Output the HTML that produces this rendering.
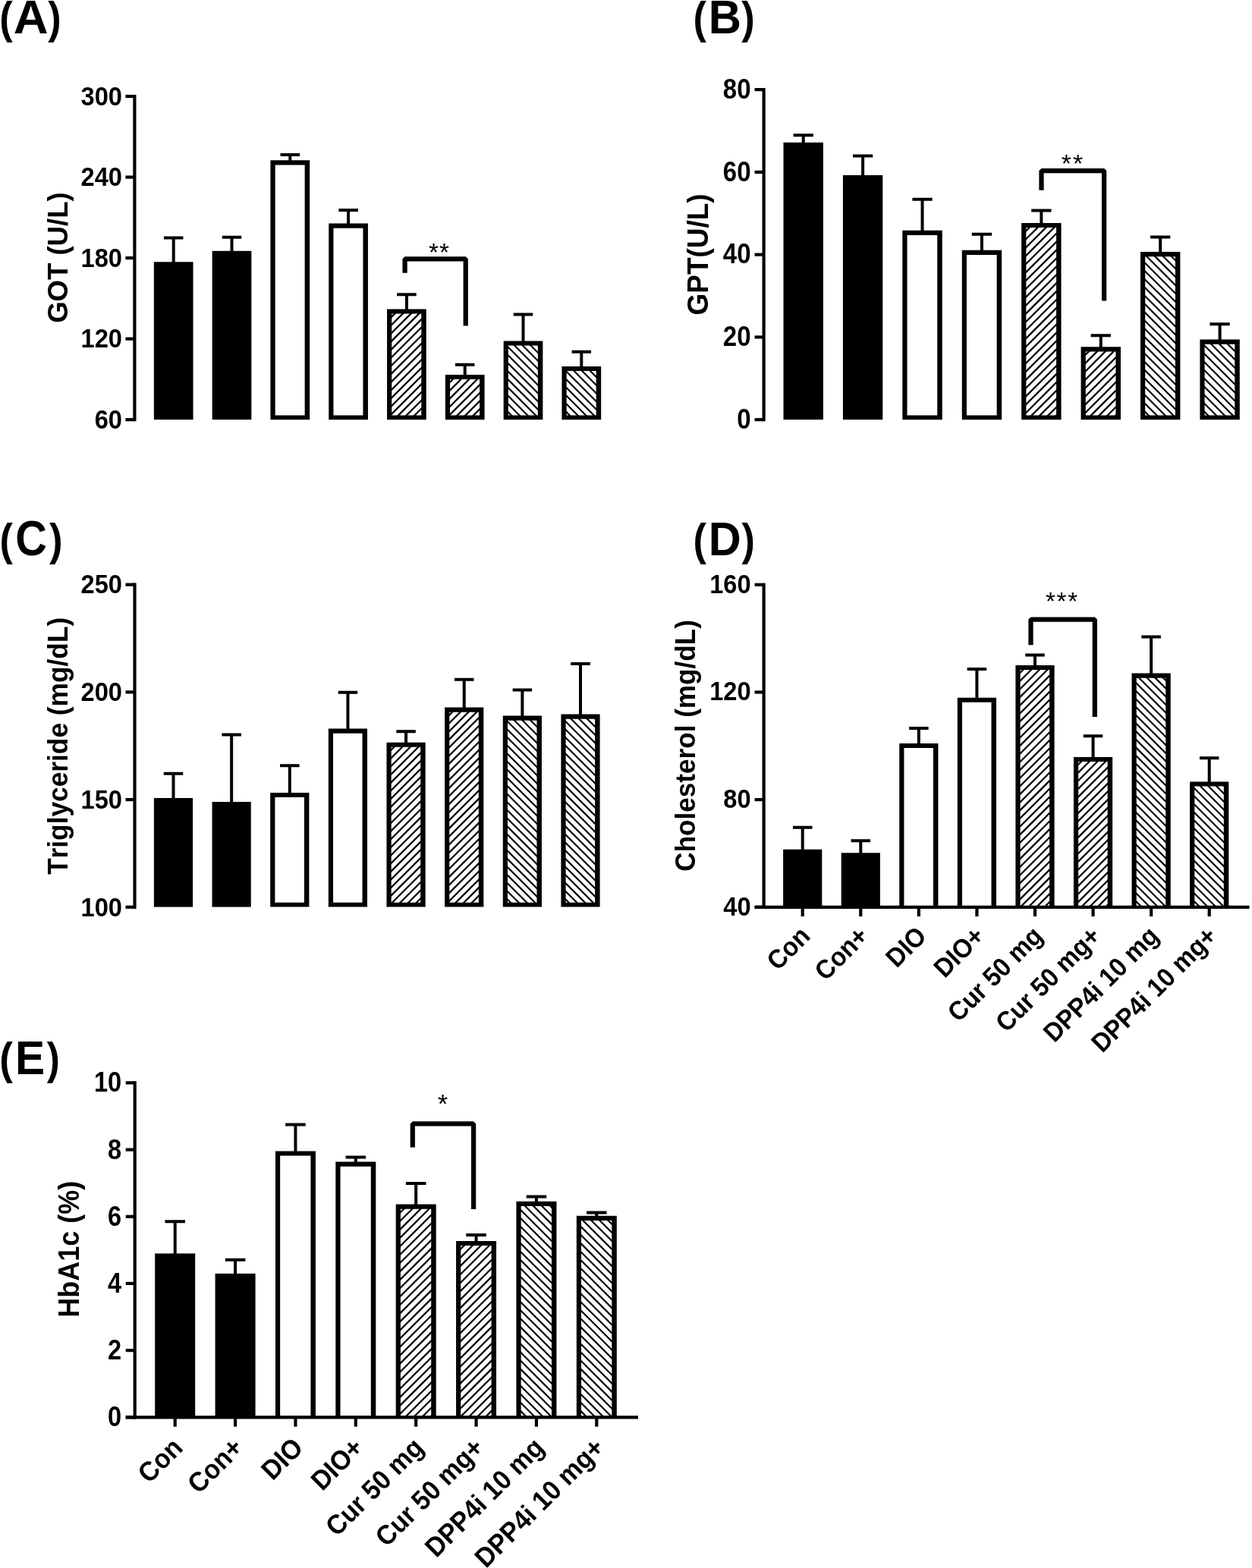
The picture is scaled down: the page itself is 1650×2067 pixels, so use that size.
<!DOCTYPE html>
<html lang="en"><head><meta charset="utf-8"><title>Figure</title>
<style>
html,body{margin:0;padding:0;background:#fff;}
body{width:1650px;height:2067px;overflow:hidden;}
svg{display:block;}
text{font-family:"Liberation Sans",Arial,Helvetica,sans-serif;fill:#000;font-kerning:none;}
.t{font-size:32.6px;font-weight:bold;}
.L{font-size:59.2px;font-weight:bold;}
.s{font-size:33.33px;}
.a{stroke:#000;stroke-width:4.17;fill:none;}
.e{stroke:#000;stroke-width:4.0;fill:none;}
.b{stroke:#000;fill:none;}
.hf{stroke:#000;stroke-width:2.25;fill:none;}
.hb{stroke:#000;stroke-width:2.15;fill:none;}
.k{stroke:#000;stroke-width:6.25;fill:none;stroke-linejoin:bevel;}
</style></head><body>
<svg xmlns="http://www.w3.org/2000/svg" width="1650" height="2067" viewBox="0 0 1650 2067">
<rect width="1650" height="2067" fill="#fff"/>
<g id="panel-A">
<path d="M228.7 348.3V313.6M215.95 313.6H241.45" class="e"/>
<rect x="202.85" y="345.3" width="51.7" height="207.9"/>
<path d="M305.5 333.8V312.7M292.75 312.7H318.25" class="e"/>
<rect x="279.65" y="330.8" width="51.7" height="222.4"/>
<path d="M382.3 214.3V204M369.55 204H395.05" class="e"/>
<path fill-rule="evenodd" d="M356.45 211.3H408.15V553.2H356.45ZM362.65 217.4H401.65V547.4H362.65Z"/>
<path d="M459.1 297.6V277M446.35 277H471.85" class="e"/>
<path fill-rule="evenodd" d="M433.25 294.6H484.95V553.2H433.25ZM439.45 300.7H478.45V547.4H439.45Z"/>
<path d="M535.9 410.5V388.3M523.15 388.3H548.65" class="e"/>
<path d="M514.75 418.84L521.48 412.1M514.75 429.53L532.17 412.1M514.75 440.22L542.87 412.1M514.75 450.91L553.56 412.1M514.75 461.6L556.75 419.6M514.75 472.29L556.75 430.29M514.75 482.98L556.75 440.98M514.75 493.67L556.75 451.67M514.75 504.36L556.75 462.36M514.75 515.05L556.75 473.05M514.75 525.74L556.75 483.74M514.75 536.43L556.75 494.43M514.75 547.12L556.75 505.12M523.66 548.9L556.75 515.81M534.35 548.9L556.75 526.5M545.04 548.9L556.75 537.19M555.73 548.9L556.75 547.88" class="hf"/>
<path fill-rule="evenodd" d="M510.05 407.5H561.75V553.2H510.05ZM516.25 413.6H555.25V547.4H516.25Z"/>
<path d="M612.7 496.9V480.8M599.95 480.8H625.45" class="e"/>
<path d="M591.55 505.24L598.29 498.5M591.55 515.93L608.98 498.5M591.55 526.62L619.67 498.5M591.55 537.31L630.36 498.5M591.55 548L633.55 506M601.34 548.9L633.55 516.69M612.03 548.9L633.55 527.38M622.72 548.9L633.55 538.07M633.41 548.9L633.55 548.76" class="hf"/>
<path fill-rule="evenodd" d="M586.85 493.9H638.55V553.2H586.85ZM593.05 500H632.05V547.4H593.05Z"/>
<path d="M689.5 452.4V414.5M676.75 414.5H702.25" class="e"/>
<path d="M668.35 541.87L675.38 548.9M668.35 531.18L686.07 548.9M668.35 520.49L696.76 548.9M668.35 509.8L707.45 548.9M668.35 499.11L710.35 541.11M668.35 488.42L710.35 530.42M668.35 477.73L710.35 519.73M668.35 467.04L710.35 509.04M668.35 456.35L710.35 498.35M676.69 454L710.35 487.66M687.38 454L710.35 476.97M698.07 454L710.35 466.28M708.76 454L710.35 455.59" class="hb"/>
<path fill-rule="evenodd" d="M663.65 449.4H715.35V553.2H663.65ZM669.85 455.5H708.85V547.4H669.85Z"/>
<path d="M766.3 486V463.8M753.55 463.8H779.05" class="e"/>
<path d="M745.15 541.87L752.18 548.9M745.15 531.18L762.88 548.9M745.15 520.49L773.56 548.9M745.15 509.8L784.25 548.9M745.15 499.11L787.15 541.11M745.15 488.42L787.15 530.42M755.02 487.6L787.15 519.73M765.71 487.6L787.15 509.04M776.4 487.6L787.15 498.35M787.09 487.6L787.15 487.66" class="hb"/>
<path fill-rule="evenodd" d="M740.45 483H792.15V553.2H740.45ZM746.65 489.1H785.65V547.4H746.65Z"/>
<path d="M177.4 124.92V555.29" class="a"/>
<path d="M165.4 127H177.4" class="a"/>
<text transform="translate(160.9 138.7) scale(1 1.070)" class="t" text-anchor="end">300</text>
<path d="M165.4 233.55H177.4" class="a"/>
<text transform="translate(160.9 245.25) scale(1 1.070)" class="t" text-anchor="end">240</text>
<path d="M165.4 340.1H177.4" class="a"/>
<text transform="translate(160.9 351.8) scale(1 1.070)" class="t" text-anchor="end">180</text>
<path d="M165.4 446.65H177.4" class="a"/>
<text transform="translate(160.9 458.35) scale(1 1.070)" class="t" text-anchor="end">120</text>
<path d="M165.4 553.2H177.4" class="a"/>
<text transform="translate(160.9 564.9) scale(1 1.070)" class="t" text-anchor="end">60</text>
<text transform="translate(89.1 339.6) rotate(-90) scale(1 1.018)" class="t" text-anchor="middle" style="font-size:36.54px">GOT (U/L)</text>
<text transform="translate(-0.81 43.87) scale(0.8859 1.0040)" class="L">(</text>
<text transform="translate(17.82 43.6) scale(1.0726 1.0778)" class="L">A</text>
<text transform="translate(63.35 43.87) scale(0.8859 1.0040)" class="L">)</text>
<path d="M533.6 359.8V341.3H613.7V429.4" class="k"/>
<text transform="translate(579.1 344.2)" class="s" text-anchor="middle" style="font-size:33.33px;letter-spacing:1.2px">**</text>
</g>
<g id="panel-B">
<path d="M1058.7 190.8V178.2M1045.55 178.2H1071.85" class="e"/>
<rect x="1032.5" y="187.8" width="52.4" height="365.4"/>
<path d="M1137.11 233.9V205.6M1123.96 205.6H1150.26" class="e"/>
<rect x="1110.91" y="230.9" width="52.4" height="322.3"/>
<path d="M1215.53 306.8V262.7M1202.38 262.7H1228.68" class="e"/>
<path fill-rule="evenodd" d="M1189.33 303.8H1241.73V553.2H1189.33ZM1195.53 309.9H1235.23V547.4H1195.53Z"/>
<path d="M1293.94 332.8V308.8M1280.79 308.8H1307.09" class="e"/>
<path fill-rule="evenodd" d="M1267.74 329.8H1320.14V553.2H1267.74ZM1273.94 335.9H1313.64V547.4H1273.94Z"/>
<path d="M1372.36 297V277.5M1359.21 277.5H1385.51" class="e"/>
<path d="M1350.86 305.65L1357.91 298.6M1350.86 316.55L1368.81 298.6M1350.86 327.45L1379.71 298.6M1350.86 338.35L1390.61 298.6M1350.86 349.25L1393.56 306.55M1350.86 360.15L1393.56 317.45M1350.86 371.05L1393.56 328.35M1350.86 381.95L1393.56 339.25M1350.86 392.85L1393.56 350.15M1350.86 403.75L1393.56 361.05M1350.86 414.65L1393.56 371.95M1350.86 425.55L1393.56 382.85M1350.86 436.45L1393.56 393.75M1350.86 447.35L1393.56 404.65M1350.86 458.25L1393.56 415.55M1350.86 469.15L1393.56 426.45M1350.86 480.05L1393.56 437.35M1350.86 490.95L1393.56 448.25M1350.86 501.85L1393.56 459.15M1350.86 512.75L1393.56 470.05M1350.86 523.65L1393.56 480.95M1350.86 534.55L1393.56 491.85M1350.86 545.45L1393.56 502.75M1358.31 548.9L1393.56 513.65M1369.21 548.9L1393.56 524.55M1380.11 548.9L1393.56 535.45M1391.01 548.9L1393.56 546.35" class="hf"/>
<path fill-rule="evenodd" d="M1346.16 294H1398.56V553.2H1346.16ZM1352.36 300.1H1392.06V547.4H1352.36Z"/>
<path d="M1450.77 460.3V442.3M1437.62 442.3H1463.92" class="e"/>
<path d="M1429.27 468.95L1436.32 461.9M1429.27 479.85L1447.22 461.9M1429.27 490.75L1458.12 461.9M1429.27 501.65L1469.02 461.9M1429.27 512.55L1471.97 469.85M1429.27 523.45L1471.97 480.75M1429.27 534.35L1471.97 491.65M1429.27 545.25L1471.97 502.55M1436.52 548.9L1471.97 513.45M1447.42 548.9L1471.97 524.35M1458.32 548.9L1471.97 535.25M1469.22 548.9L1471.97 546.15" class="hf"/>
<path fill-rule="evenodd" d="M1424.57 457.3H1476.97V553.2H1424.57ZM1430.77 463.4H1470.47V547.4H1430.77Z"/>
<path d="M1529.19 335.1V312.4M1516.04 312.4H1542.34" class="e"/>
<path d="M1507.69 541.55L1515.04 548.9M1507.69 530.65L1525.94 548.9M1507.69 519.75L1536.84 548.9M1507.69 508.85L1547.74 548.9M1507.69 497.95L1550.39 540.65M1507.69 487.05L1550.39 529.75M1507.69 476.15L1550.39 518.85M1507.69 465.25L1550.39 507.95M1507.69 454.35L1550.39 497.05M1507.69 443.45L1550.39 486.15M1507.69 432.55L1550.39 475.25M1507.69 421.65L1550.39 464.35M1507.69 410.75L1550.39 453.45M1507.69 399.85L1550.39 442.55M1507.69 388.95L1550.39 431.65M1507.69 378.05L1550.39 420.75M1507.69 367.15L1550.39 409.85M1507.69 356.25L1550.39 398.95M1507.69 345.35L1550.39 388.05M1509.94 336.7L1550.39 377.15M1520.84 336.7L1550.39 366.25M1531.74 336.7L1550.39 355.35M1542.64 336.7L1550.39 344.45" class="hb"/>
<path fill-rule="evenodd" d="M1502.99 332.1H1555.39V553.2H1502.99ZM1509.19 338.2H1548.89V547.4H1509.19Z"/>
<path d="M1607.6 450.6V427.3M1594.45 427.3H1620.75" class="e"/>
<path d="M1586.1 541.55L1593.45 548.9M1586.1 530.65L1604.35 548.9M1586.1 519.75L1615.25 548.9M1586.1 508.85L1626.15 548.9M1586.1 497.95L1628.8 540.65M1586.1 487.05L1628.8 529.75M1586.1 476.15L1628.8 518.85M1586.1 465.25L1628.8 507.95M1586.1 454.35L1628.8 497.05M1594.85 452.2L1628.8 486.15M1605.75 452.2L1628.8 475.25M1616.65 452.2L1628.8 464.35M1627.55 452.2L1628.8 453.45" class="hb"/>
<path fill-rule="evenodd" d="M1581.4 447.6H1633.8V553.2H1581.4ZM1587.6 453.7H1627.3V547.4H1587.6Z"/>
<path d="M1006.6 116.02V555.29" class="a"/>
<path d="M994.6 118.1H1006.6" class="a"/>
<text transform="translate(989.5 129.9) scale(1 1.100)" class="t" text-anchor="end" style="font-size:33px">80</text>
<path d="M994.6 226.88H1006.6" class="a"/>
<text transform="translate(989.5 238.68) scale(1 1.100)" class="t" text-anchor="end" style="font-size:33px">60</text>
<path d="M994.6 335.65H1006.6" class="a"/>
<text transform="translate(989.5 347.45) scale(1 1.100)" class="t" text-anchor="end" style="font-size:33px">40</text>
<path d="M994.6 444.43H1006.6" class="a"/>
<text transform="translate(989.5 456.23) scale(1 1.100)" class="t" text-anchor="end" style="font-size:33px">20</text>
<path d="M994.6 553.2H1006.6" class="a"/>
<text transform="translate(989.5 565) scale(1 1.100)" class="t" text-anchor="end" style="font-size:33px">0</text>
<text transform="translate(933.2 335.4) rotate(-90) scale(1 1.027)" class="t" text-anchor="middle" style="font-size:36.93px">GPT(U/L)</text>
<text transform="translate(913.55 44.12) scale(0.8829 1.0040)" class="L">(</text>
<text transform="translate(933.7 43.85) scale(1.0109 1.0778)" class="L">B</text>
<text transform="translate(977.35 44.12) scale(0.8859 1.0040)" class="L">)</text>
<path d="M1372.5 250.8V225.1H1455.1V396.6" class="k"/>
<text transform="translate(1414.1 227.3)" class="s" text-anchor="middle" style="font-size:34px;letter-spacing:2.1px">**</text>
</g>
<g id="panel-C">
<path d="M228.5 1055V1019.7M215.75 1019.7H241.25" class="e"/>
<rect x="202.9" y="1052" width="51.2" height="143.6"/>
<path d="M305.14 1060.1V968.6M292.39 968.6H317.89" class="e"/>
<rect x="279.54" y="1057.1" width="51.2" height="138.5"/>
<path d="M381.79 1047.9V1009.2M369.04 1009.2H394.54" class="e"/>
<path fill-rule="evenodd" d="M356.19 1044.9H407.39V1195.6H356.19ZM362.39 1051H400.89V1189.8H362.39Z"/>
<path d="M458.43 963.6V912.8M445.68 912.8H471.18" class="e"/>
<path fill-rule="evenodd" d="M432.83 960.6H484.03V1195.6H432.83ZM439.03 966.7H477.53V1189.8H439.03Z"/>
<path d="M535.07 981.7V964.2M522.32 964.2H547.82" class="e"/>
<path d="M514.17 989.99L520.86 983.3M514.17 1000.65L531.52 983.3M514.17 1011.31L542.18 983.3M514.17 1021.97L552.84 983.3M514.17 1032.63L555.67 991.13M514.17 1043.29L555.67 1001.79M514.17 1053.95L555.67 1012.45M514.17 1064.61L555.67 1023.11M514.17 1075.27L555.67 1033.77M514.17 1085.93L555.67 1044.43M514.17 1096.59L555.67 1055.09M514.17 1107.25L555.67 1065.75M514.17 1117.91L555.67 1076.41M514.17 1128.57L555.67 1087.07M514.17 1139.23L555.67 1097.73M514.17 1149.89L555.67 1108.39M514.17 1160.55L555.67 1119.05M514.17 1171.21L555.67 1129.71M514.17 1181.87L555.67 1140.37M515.4 1191.3L555.67 1151.03M526.06 1191.3L555.67 1161.69M536.72 1191.3L555.67 1172.35M547.38 1191.3L555.67 1183.01" class="hf"/>
<path fill-rule="evenodd" d="M509.47 978.7H560.67V1195.6H509.47ZM515.67 984.8H554.17V1189.8H515.67Z"/>
<path d="M611.71 935.6V895.7M598.96 895.7H624.46" class="e"/>
<path d="M590.81 943.89L597.5 937.2M590.81 954.55L608.16 937.2M590.81 965.21L618.82 937.2M590.81 975.87L629.48 937.2M590.81 986.53L632.31 945.03M590.81 997.19L632.31 955.69M590.81 1007.85L632.31 966.35M590.81 1018.51L632.31 977.01M590.81 1029.17L632.31 987.67M590.81 1039.83L632.31 998.33M590.81 1050.49L632.31 1008.99M590.81 1061.15L632.31 1019.65M590.81 1071.81L632.31 1030.31M590.81 1082.47L632.31 1040.97M590.81 1093.13L632.31 1051.63M590.81 1103.79L632.31 1062.29M590.81 1114.45L632.31 1072.95M590.81 1125.11L632.31 1083.61M590.81 1135.77L632.31 1094.27M590.81 1146.43L632.31 1104.93M590.81 1157.09L632.31 1115.59M590.81 1167.75L632.31 1126.25M590.81 1178.41L632.31 1136.91M590.81 1189.07L632.31 1147.57M599.24 1191.3L632.31 1158.23M609.9 1191.3L632.31 1168.89M620.56 1191.3L632.31 1179.55M631.22 1191.3L632.31 1190.21" class="hf"/>
<path fill-rule="evenodd" d="M586.11 932.6H637.31V1195.6H586.11ZM592.31 938.7H630.81V1189.8H592.31Z"/>
<path d="M688.36 946.6V909.5M675.61 909.5H701.11" class="e"/>
<path d="M667.46 1184.31L674.45 1191.3M667.46 1173.65L685.11 1191.3M667.46 1162.99L695.77 1191.3M667.46 1152.33L706.43 1191.3M667.46 1141.67L708.96 1183.17M667.46 1131.01L708.96 1172.51M667.46 1120.35L708.96 1161.85M667.46 1109.69L708.96 1151.19M667.46 1099.03L708.96 1140.53M667.46 1088.37L708.96 1129.87M667.46 1077.71L708.96 1119.21M667.46 1067.05L708.96 1108.55M667.46 1056.39L708.96 1097.89M667.46 1045.73L708.96 1087.23M667.46 1035.07L708.96 1076.57M667.46 1024.41L708.96 1065.91M667.46 1013.75L708.96 1055.25M667.46 1003.09L708.96 1044.59M667.46 992.43L708.96 1033.93M667.46 981.77L708.96 1023.27M667.46 971.11L708.96 1012.61M667.46 960.45L708.96 1001.95M667.46 949.79L708.96 991.29M676.53 948.2L708.96 980.63M687.19 948.2L708.96 969.97M697.85 948.2L708.96 959.31M708.51 948.2L708.96 948.65" class="hb"/>
<path fill-rule="evenodd" d="M662.76 943.6H713.96V1195.6H662.76ZM668.96 949.7H707.46V1189.8H668.96Z"/>
<path d="M765 944.6V875M752.25 875H777.75" class="e"/>
<path d="M744.1 1184.31L751.09 1191.3M744.1 1173.65L761.75 1191.3M744.1 1162.99L772.41 1191.3M744.1 1152.33L783.07 1191.3M744.1 1141.67L785.6 1183.17M744.1 1131.01L785.6 1172.51M744.1 1120.35L785.6 1161.85M744.1 1109.69L785.6 1151.19M744.1 1099.03L785.6 1140.53M744.1 1088.37L785.6 1129.87M744.1 1077.71L785.6 1119.21M744.1 1067.05L785.6 1108.55M744.1 1056.39L785.6 1097.89M744.1 1045.73L785.6 1087.23M744.1 1035.07L785.6 1076.57M744.1 1024.41L785.6 1065.91M744.1 1013.75L785.6 1055.25M744.1 1003.09L785.6 1044.59M744.1 992.43L785.6 1033.93M744.1 981.77L785.6 1023.27M744.1 971.11L785.6 1012.61M744.1 960.45L785.6 1001.95M744.1 949.79L785.6 991.29M751.17 946.2L785.6 980.63M761.83 946.2L785.6 969.97M772.49 946.2L785.6 959.31M783.15 946.2L785.6 948.65" class="hb"/>
<path fill-rule="evenodd" d="M739.4 941.6H790.6V1195.6H739.4ZM745.6 947.7H784.1V1189.8H745.6Z"/>
<path d="M177.5 768.62V1197.88" class="a"/>
<path d="M165.5 770.7H177.5" class="a"/>
<text transform="translate(161 782.4) scale(1 1.070)" class="t" text-anchor="end">250</text>
<path d="M165.5 912.4H177.5" class="a"/>
<text transform="translate(161 924.1) scale(1 1.070)" class="t" text-anchor="end">200</text>
<path d="M165.5 1054.1H177.5" class="a"/>
<text transform="translate(161 1065.8) scale(1 1.070)" class="t" text-anchor="end">150</text>
<path d="M165.5 1195.8H177.5" class="a"/>
<text transform="translate(161 1207.5) scale(1 1.070)" class="t" text-anchor="end">100</text>
<text transform="translate(89.1 983.4) rotate(-90) scale(1 1.046)" class="t" text-anchor="middle" style="font-size:35.29px">Triglyceride (mg/dL)</text>
<text transform="translate(-0.39 732.12) scale(0.8799 1.0040)" class="L">(</text>
<text transform="translate(20.14 731.92) scale(0.9740 1.0832)" class="L">C</text>
<text transform="translate(65.05 732.12) scale(0.8919 1.0040)" class="L">)</text>
</g>
<g id="panel-D">
<path d="M1057.7 1122.7V1090.7M1044.95 1090.7H1070.45" class="e"/>
<rect x="1032.1" y="1119.7" width="51.2" height="77.1"/>
<path d="M1134.27 1127.3V1108.2M1121.52 1108.2H1147.02" class="e"/>
<rect x="1108.67" y="1124.3" width="51.2" height="72.5"/>
<path d="M1210.84 983V959.9M1198.09 959.9H1223.59" class="e"/>
<path fill-rule="evenodd" d="M1185.24 980H1236.44V1196.8H1185.24ZM1191.44 986.1H1229.94V1194.2H1191.44Z"/>
<path d="M1287.41 922.7V882M1274.66 882H1300.16" class="e"/>
<path fill-rule="evenodd" d="M1261.81 919.7H1313.01V1196.8H1261.81ZM1268.01 925.8H1306.51V1194.2H1268.01Z"/>
<path d="M1363.99 879.9V863.4M1351.24 863.4H1376.74" class="e"/>
<path d="M1343.09 888.19L1349.78 881.5M1343.09 898.85L1360.44 881.5M1343.09 909.51L1371.1 881.5M1343.09 920.17L1381.76 881.5M1343.09 930.83L1384.59 889.33M1343.09 941.49L1384.59 899.99M1343.09 952.15L1384.59 910.65M1343.09 962.81L1384.59 921.31M1343.09 973.47L1384.59 931.97M1343.09 984.13L1384.59 942.63M1343.09 994.79L1384.59 953.29M1343.09 1005.45L1384.59 963.95M1343.09 1016.11L1384.59 974.61M1343.09 1026.77L1384.59 985.27M1343.09 1037.43L1384.59 995.93M1343.09 1048.09L1384.59 1006.59M1343.09 1058.75L1384.59 1017.25M1343.09 1069.41L1384.59 1027.91M1343.09 1080.07L1384.59 1038.57M1343.09 1090.73L1384.59 1049.23M1343.09 1101.39L1384.59 1059.89M1343.09 1112.05L1384.59 1070.55M1343.09 1122.71L1384.59 1081.21M1343.09 1133.37L1384.59 1091.87M1343.09 1144.03L1384.59 1102.53M1343.09 1154.69L1384.59 1113.19M1343.09 1165.35L1384.59 1123.85M1343.09 1176.01L1384.59 1134.51M1343.09 1186.67L1384.59 1145.17M1344.72 1195.7L1384.59 1155.83M1355.38 1195.7L1384.59 1166.49M1366.04 1195.7L1384.59 1177.15M1376.7 1195.7L1384.59 1187.81" class="hf"/>
<path fill-rule="evenodd" d="M1338.39 876.9H1389.59V1196.8H1338.39ZM1344.59 883H1383.09V1194.2H1344.59Z"/>
<path d="M1440.56 1000.9V970.3M1427.81 970.3H1453.31" class="e"/>
<path d="M1419.66 1009.19L1426.35 1002.5M1419.66 1019.85L1437.01 1002.5M1419.66 1030.51L1447.67 1002.5M1419.66 1041.17L1458.33 1002.5M1419.66 1051.83L1461.16 1010.33M1419.66 1062.49L1461.16 1020.99M1419.66 1073.15L1461.16 1031.65M1419.66 1083.81L1461.16 1042.31M1419.66 1094.47L1461.16 1052.97M1419.66 1105.13L1461.16 1063.63M1419.66 1115.79L1461.16 1074.29M1419.66 1126.45L1461.16 1084.95M1419.66 1137.11L1461.16 1095.61M1419.66 1147.77L1461.16 1106.27M1419.66 1158.43L1461.16 1116.93M1419.66 1169.09L1461.16 1127.59M1419.66 1179.75L1461.16 1138.25M1419.66 1190.41L1461.16 1148.91M1425.03 1195.7L1461.16 1159.57M1435.69 1195.7L1461.16 1170.23M1446.35 1195.7L1461.16 1180.89M1457.01 1195.7L1461.16 1191.55" class="hf"/>
<path fill-rule="evenodd" d="M1414.96 997.9H1466.16V1196.8H1414.96ZM1421.16 1004H1459.66V1194.2H1421.16Z"/>
<path d="M1517.13 890.6V839.5M1504.38 839.5H1529.88" class="e"/>
<path d="M1496.23 1187.16L1504.77 1195.7M1496.23 1176.5L1515.43 1195.7M1496.23 1165.84L1526.09 1195.7M1496.23 1155.18L1536.75 1195.7M1496.23 1144.52L1537.73 1186.02M1496.23 1133.86L1537.73 1175.36M1496.23 1123.2L1537.73 1164.7M1496.23 1112.54L1537.73 1154.04M1496.23 1101.88L1537.73 1143.38M1496.23 1091.22L1537.73 1132.72M1496.23 1080.56L1537.73 1122.06M1496.23 1069.9L1537.73 1111.4M1496.23 1059.24L1537.73 1100.74M1496.23 1048.58L1537.73 1090.08M1496.23 1037.92L1537.73 1079.42M1496.23 1027.26L1537.73 1068.76M1496.23 1016.6L1537.73 1058.1M1496.23 1005.94L1537.73 1047.44M1496.23 995.28L1537.73 1036.78M1496.23 984.62L1537.73 1026.12M1496.23 973.96L1537.73 1015.46M1496.23 963.3L1537.73 1004.8M1496.23 952.64L1537.73 994.14M1496.23 941.98L1537.73 983.48M1496.23 931.32L1537.73 972.82M1496.23 920.66L1537.73 962.16M1496.23 910L1537.73 951.5M1496.23 899.34L1537.73 940.84M1499.75 892.2L1537.73 930.18M1510.41 892.2L1537.73 919.52M1521.07 892.2L1537.73 908.86M1531.73 892.2L1537.73 898.2" class="hb"/>
<path fill-rule="evenodd" d="M1491.53 887.6H1542.73V1196.8H1491.53ZM1497.73 893.7H1536.23V1194.2H1497.73Z"/>
<path d="M1593.7 1033.4V999.3M1580.95 999.3H1606.45" class="e"/>
<path d="M1572.8 1187.16L1581.34 1195.7M1572.8 1176.5L1592 1195.7M1572.8 1165.84L1602.66 1195.7M1572.8 1155.18L1613.32 1195.7M1572.8 1144.52L1614.3 1186.02M1572.8 1133.86L1614.3 1175.36M1572.8 1123.2L1614.3 1164.7M1572.8 1112.54L1614.3 1154.04M1572.8 1101.88L1614.3 1143.38M1572.8 1091.22L1614.3 1132.72M1572.8 1080.56L1614.3 1122.06M1572.8 1069.9L1614.3 1111.4M1572.8 1059.24L1614.3 1100.74M1572.8 1048.58L1614.3 1090.08M1572.8 1037.92L1614.3 1079.42M1580.54 1035L1614.3 1068.76M1591.2 1035L1614.3 1058.1M1601.86 1035L1614.3 1047.44M1612.52 1035L1614.3 1036.78" class="hb"/>
<path fill-rule="evenodd" d="M1568.1 1030.4H1619.3V1196.8H1568.1ZM1574.3 1036.5H1612.8V1194.2H1574.3Z"/>
<path d="M1006.6 768.71V1197.88" class="a"/>
<path d="M994.6 770.8H1006.6" class="a"/>
<text transform="translate(989.6 781.8) scale(1 1.070)" class="t" text-anchor="end">160</text>
<path d="M994.6 912.47H1006.6" class="a"/>
<text transform="translate(989.6 923.47) scale(1 1.070)" class="t" text-anchor="end">120</text>
<path d="M994.6 1054.13H1006.6" class="a"/>
<text transform="translate(989.6 1065.13) scale(1 1.070)" class="t" text-anchor="end">80</text>
<path d="M994.6 1195.8H1006.6" class="a"/>
<text transform="translate(989.6 1206.8) scale(1 1.070)" class="t" text-anchor="end">40</text>
<text transform="translate(916.1 982.95) rotate(-90) scale(1 1.039)" class="t" text-anchor="middle" style="font-size:35.11px">Cholesterol (mg/dL)</text>
<text transform="translate(913.55 732.27) scale(0.8829 1.0040)" class="L">(</text>
<text transform="translate(933.72 732) scale(1.0053 1.0778)" class="L">D</text>
<text transform="translate(977.4 732.27) scale(0.8829 1.0040)" class="L">)</text>
<path d="M994.6 1195.8H1646.6" class="a"/>
<path d="M1057.7 1195.8v12.3" class="a"/>
<text transform="translate(1069.7 1236) rotate(-45) scale(1 1.070)" class="t" text-anchor="end">Con</text>
<path d="M1134.27 1195.8v12.3" class="a"/>
<text transform="translate(1146.27 1236) rotate(-45) scale(1 1.070)" class="t" text-anchor="end">Con+</text>
<path d="M1210.84 1195.8v12.3" class="a"/>
<text transform="translate(1222.84 1236) rotate(-45) scale(1 1.070)" class="t" text-anchor="end">DIO</text>
<path d="M1287.41 1195.8v12.3" class="a"/>
<text transform="translate(1299.41 1236) rotate(-45) scale(1 1.070)" class="t" text-anchor="end">DIO+</text>
<path d="M1363.99 1195.8v12.3" class="a"/>
<text transform="translate(1375.99 1236) rotate(-45) scale(1 1.070)" class="t" text-anchor="end">Cur 50 mg</text>
<path d="M1440.56 1195.8v12.3" class="a"/>
<text transform="translate(1452.56 1236) rotate(-45) scale(1 1.070)" class="t" text-anchor="end">Cur 50 mg+</text>
<path d="M1517.13 1195.8v12.3" class="a"/>
<text transform="translate(1529.13 1236) rotate(-45) scale(1 1.070)" class="t" text-anchor="end">DPP4i 10 mg</text>
<path d="M1593.7 1195.8v12.3" class="a"/>
<text transform="translate(1605.7 1236) rotate(-45) scale(1 1.070)" class="t" text-anchor="end">DPP4i 10 mg+</text>
<path d="M1358.5 850.2V816.5H1442.8V945.1" class="k"/>
<text transform="translate(1399.9 803.6)" class="s" text-anchor="middle" style="font-size:33.33px;letter-spacing:1.6px">***</text>
</g>
<g id="panel-E">
<path d="M230.7 1655.4V1610.2M217.45 1610.2H243.95" class="e"/>
<rect x="204.2" y="1652.4" width="53" height="216.9"/>
<path d="M310.07 1681.9V1660.8M296.82 1660.8H323.32" class="e"/>
<rect x="283.57" y="1678.9" width="53" height="190.4"/>
<path d="M389.44 1520.4V1482.4M376.19 1482.4H402.69" class="e"/>
<path fill-rule="evenodd" d="M362.94 1517.4H415.94V1869.3H362.94ZM369.14 1523.5H409.44V1866.7H369.14Z"/>
<path d="M468.81 1534.6V1525.5M455.56 1525.5H482.06" class="e"/>
<path fill-rule="evenodd" d="M442.31 1531.6H495.31V1869.3H442.31ZM448.51 1537.7H488.81V1866.7H448.51Z"/>
<path d="M548.19 1590.6V1560.1M534.94 1560.1H561.44" class="e"/>
<path d="M526.39 1599.48L533.66 1592.2M526.39 1610.53L544.71 1592.2M526.39 1621.58L555.76 1592.2M526.39 1632.63L566.81 1592.2M526.39 1643.68L569.69 1600.38M526.39 1654.73L569.69 1611.43M526.39 1665.78L569.69 1622.48M526.39 1676.83L569.69 1633.53M526.39 1687.88L569.69 1644.58M526.39 1698.93L569.69 1655.63M526.39 1709.98L569.69 1666.68M526.39 1721.03L569.69 1677.73M526.39 1732.08L569.69 1688.78M526.39 1743.13L569.69 1699.83M526.39 1754.18L569.69 1710.88M526.39 1765.23L569.69 1721.93M526.39 1776.28L569.69 1732.98M526.39 1787.33L569.69 1744.03M526.39 1798.38L569.69 1755.08M526.39 1809.43L569.69 1766.13M526.39 1820.48L569.69 1777.18M526.39 1831.53L569.69 1788.23M526.39 1842.58L569.69 1799.28M526.39 1853.63L569.69 1810.33M526.39 1864.68L569.69 1821.38M533.91 1868.2L569.69 1832.43M544.96 1868.2L569.69 1843.48M556.01 1868.2L569.69 1854.53M567.06 1868.2L569.69 1865.58" class="hf"/>
<path fill-rule="evenodd" d="M521.69 1587.6H574.69V1869.3H521.69ZM527.89 1593.7H568.19V1866.7H527.89Z"/>
<path d="M627.56 1638.9V1628M614.31 1628H640.81" class="e"/>
<path d="M605.76 1647.78L613.03 1640.5M605.76 1658.83L624.08 1640.5M605.76 1669.88L635.13 1640.5M605.76 1680.93L646.18 1640.5M605.76 1691.98L649.06 1648.68M605.76 1703.03L649.06 1659.73M605.76 1714.08L649.06 1670.78M605.76 1725.13L649.06 1681.83M605.76 1736.18L649.06 1692.88M605.76 1747.23L649.06 1703.93M605.76 1758.28L649.06 1714.98M605.76 1769.33L649.06 1726.03M605.76 1780.38L649.06 1737.08M605.76 1791.43L649.06 1748.13M605.76 1802.48L649.06 1759.18M605.76 1813.53L649.06 1770.23M605.76 1824.58L649.06 1781.28M605.76 1835.63L649.06 1792.33M605.76 1846.68L649.06 1803.38M605.76 1857.73L649.06 1814.43M606.33 1868.2L649.06 1825.48M617.38 1868.2L649.06 1836.53M628.43 1868.2L649.06 1847.58M639.48 1868.2L649.06 1858.63" class="hf"/>
<path fill-rule="evenodd" d="M601.06 1635.9H654.06V1869.3H601.06ZM607.26 1642H647.56V1866.7H607.26Z"/>
<path d="M706.93 1586.8V1577.4M693.68 1577.4H720.18" class="e"/>
<path d="M685.13 1859.12L694.2 1868.2M685.13 1848.08L705.25 1868.2M685.13 1837.03L716.3 1868.2M685.13 1825.98L727.35 1868.2M685.13 1814.93L728.43 1858.23M685.13 1803.88L728.43 1847.18M685.13 1792.83L728.43 1836.13M685.13 1781.78L728.43 1825.08M685.13 1770.73L728.43 1814.03M685.13 1759.68L728.43 1802.98M685.13 1748.63L728.43 1791.93M685.13 1737.58L728.43 1780.88M685.13 1726.53L728.43 1769.83M685.13 1715.48L728.43 1758.78M685.13 1704.43L728.43 1747.73M685.13 1693.38L728.43 1736.68M685.13 1682.33L728.43 1725.63M685.13 1671.28L728.43 1714.58M685.13 1660.23L728.43 1703.53M685.13 1649.18L728.43 1692.48M685.13 1638.13L728.43 1681.43M685.13 1627.08L728.43 1670.38M685.13 1616.03L728.43 1659.33M685.13 1604.98L728.43 1648.28M685.13 1593.93L728.43 1637.23M690.65 1588.4L728.43 1626.18M701.7 1588.4L728.43 1615.13M712.75 1588.4L728.43 1604.08M723.8 1588.4L728.43 1593.03" class="hb"/>
<path fill-rule="evenodd" d="M680.43 1583.8H733.43V1869.3H680.43ZM686.63 1589.9H726.93V1866.7H686.63Z"/>
<path d="M786.3 1605.8V1598.5M773.05 1598.5H799.55" class="e"/>
<path d="M764.5 1859.12L773.58 1868.2M764.5 1848.08L784.62 1868.2M764.5 1837.03L795.67 1868.2M764.5 1825.98L806.72 1868.2M764.5 1814.93L807.8 1858.23M764.5 1803.88L807.8 1847.18M764.5 1792.83L807.8 1836.13M764.5 1781.78L807.8 1825.08M764.5 1770.73L807.8 1814.03M764.5 1759.68L807.8 1802.98M764.5 1748.63L807.8 1791.93M764.5 1737.58L807.8 1780.88M764.5 1726.53L807.8 1769.83M764.5 1715.48L807.8 1758.78M764.5 1704.43L807.8 1747.73M764.5 1693.38L807.8 1736.68M764.5 1682.33L807.8 1725.63M764.5 1671.28L807.8 1714.58M764.5 1660.23L807.8 1703.53M764.5 1649.18L807.8 1692.48M764.5 1638.13L807.8 1681.43M764.5 1627.08L807.8 1670.38M764.5 1616.03L807.8 1659.33M766.92 1607.4L807.8 1648.28M777.97 1607.4L807.8 1637.23M789.02 1607.4L807.8 1626.18M800.07 1607.4L807.8 1615.13" class="hb"/>
<path fill-rule="evenodd" d="M759.8 1602.8H812.8V1869.3H759.8ZM766 1608.9H806.3V1866.7H766Z"/>
<path d="M177.7 1425.32V1870.38" class="a"/>
<path d="M165.7 1427.4H177.7" class="a"/>
<text transform="translate(160.2 1439.4) scale(1 1.110)" class="t" text-anchor="end">10</text>
<path d="M165.7 1515.58H177.7" class="a"/>
<text transform="translate(160.2 1527.58) scale(1 1.110)" class="t" text-anchor="end">8</text>
<path d="M165.7 1603.76H177.7" class="a"/>
<text transform="translate(160.2 1615.76) scale(1 1.110)" class="t" text-anchor="end">6</text>
<path d="M165.7 1691.94H177.7" class="a"/>
<text transform="translate(160.2 1703.94) scale(1 1.110)" class="t" text-anchor="end">4</text>
<path d="M165.7 1780.12H177.7" class="a"/>
<text transform="translate(160.2 1792.12) scale(1 1.110)" class="t" text-anchor="end">2</text>
<path d="M165.7 1868.3H177.7" class="a"/>
<text transform="translate(160.2 1880.3) scale(1 1.110)" class="t" text-anchor="end">0</text>
<text transform="translate(103.7 1646.8) rotate(-90) scale(1 1.074)" class="t" text-anchor="middle" style="font-size:35.99px">HbA1c (%)</text>
<text transform="translate(-0.63 1416.17) scale(0.8919 1.0040)" class="L">(</text>
<text transform="translate(20.08 1415.9) scale(0.9906 1.0778)" class="L">E</text>
<text transform="translate(61.65 1416.17) scale(0.8679 1.0040)" class="L">)</text>
<path d="M165.7 1868.3H841" class="a"/>
<path d="M230.7 1868.3v12.4" class="a"/>
<text transform="translate(242.7 1910.5) rotate(-45) scale(1 1.070)" class="t" text-anchor="end" style="font-size:33.6px">Con</text>
<path d="M310.07 1868.3v12.4" class="a"/>
<text transform="translate(322.07 1910.5) rotate(-45) scale(1 1.070)" class="t" text-anchor="end" style="font-size:33.6px">Con+</text>
<path d="M389.44 1868.3v12.4" class="a"/>
<text transform="translate(401.44 1910.5) rotate(-45) scale(1 1.070)" class="t" text-anchor="end" style="font-size:33.6px">DIO</text>
<path d="M468.81 1868.3v12.4" class="a"/>
<text transform="translate(480.81 1910.5) rotate(-45) scale(1 1.070)" class="t" text-anchor="end" style="font-size:33.6px">DIO+</text>
<path d="M548.19 1868.3v12.4" class="a"/>
<text transform="translate(560.19 1910.5) rotate(-45) scale(1 1.070)" class="t" text-anchor="end" style="font-size:33.6px">Cur 50 mg</text>
<path d="M627.56 1868.3v12.4" class="a"/>
<text transform="translate(639.56 1910.5) rotate(-45) scale(1 1.070)" class="t" text-anchor="end" style="font-size:33.6px">Cur 50 mg+</text>
<path d="M706.93 1868.3v12.4" class="a"/>
<text transform="translate(718.93 1910.5) rotate(-45) scale(1 1.070)" class="t" text-anchor="end" style="font-size:33.6px">DPP4i 10 mg</text>
<path d="M786.3 1868.3v12.4" class="a"/>
<text transform="translate(798.3 1910.5) rotate(-45) scale(1 1.070)" class="t" text-anchor="end" style="font-size:33.6px">DPP4i 10 mg+</text>
<path d="M543.8 1512.5V1481.4H624.1V1593.9" class="k"/>
<text transform="translate(583.4 1467.3)" class="s" text-anchor="middle" style="font-size:34.6px">*</text>
</g>
</svg>
</body></html>
